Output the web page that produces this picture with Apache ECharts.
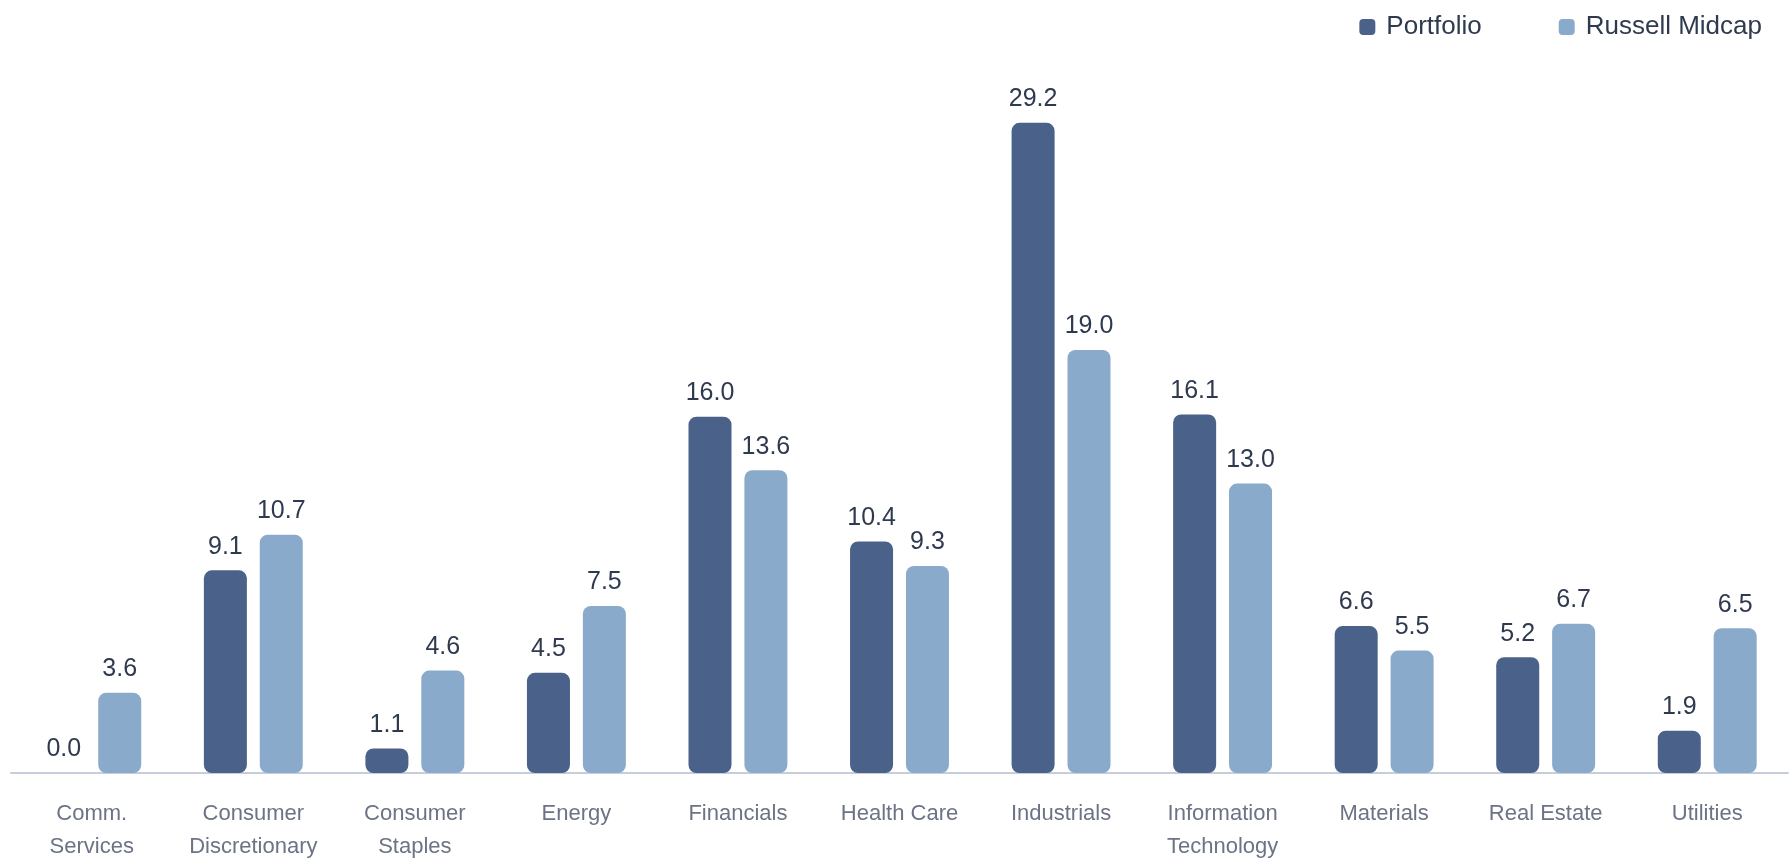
<!DOCTYPE html>
<html>
<head>
<meta charset="utf-8">
<script src="https://cdn.jsdelivr.net/npm/echarts@6/dist/echarts.min.js"></script>
<style>
  html, body { margin: 0; padding: 0; background: #ffffff; }
  #chart { width: 1791px; height: 860px; }
</style>
</head>
<body>
<div id="chart"></div>
<script>
// Sector weights (%)
const categories = [
  'Comm.\nServices', 'Consumer\nDiscretionary', 'Consumer\nStaples', 'Energy',
  'Financials', 'Health Care', 'Industrials', 'Information\nTechnology',
  'Materials', 'Real Estate', 'Utilities'
];
const portfolio = [0.0, 9.1, 1.1, 4.5, 16.0, 10.4, 29.2, 16.1, 6.6, 5.2, 1.9];
const russellMidcap = [3.6, 10.7, 4.6, 7.5, 13.6, 9.3, 19.0, 13.0, 5.5, 6.7, 6.5];
const seriesNames = ['Portfolio', 'Russell Midcap'];

const FONT = '"Liberation Sans", Arial, sans-serif';
const chart = echarts.init(document.getElementById('chart'));

const labelStyle = {
  show: true,
  position: 'top',
  distance: 11,
  color: '#2f3a4f',
  fontSize: 25,
  fontFamily: FONT,
  formatter: p => p.value.toFixed(1)
};

chart.setOption({
  animation: false,
  color: ['#4a6189', '#8aaacb'],
  legend: {
    top: 9,
    right: 24,
    itemWidth: 16,
    itemHeight: 16,
    itemGap: 77,
    icon: 'roundRect',
    textStyle: { color: '#2f3a4f', fontSize: 26, fontFamily: FONT, padding: [0, 0, 0, 6] },
    data: seriesNames
  },
  grid: {
    left: 11, right: 3, top: 105, bottom: 87,
    containLabel: false,
    outerBoundsMode: 'none'
  },
  xAxis: {
    type: 'category',
    data: categories,
    axisLine: { lineStyle: { color: '#c6cedc', width: 2 } },
    axisTick: { show: false },
    axisLabel: {
      color: '#6b7385',
      fontSize: 22,
      fontFamily: FONT,
      lineHeight: 33,
      margin: 24,
      interval: 0
    }
  },
  yAxis: {
    type: 'value',
    min: 0,
    max: 30,
    show: false,
    splitLine: { show: false }
  },
  series: [
    {
      name: seriesNames[0],
      type: 'bar',
      data: portfolio,
      barWidth: 43,
      barGap: '30%',
      itemStyle: { borderRadius: 8 },
      label: labelStyle
    },
    {
      name: seriesNames[1],
      type: 'bar',
      data: russellMidcap,
      barWidth: 43,
      barGap: '30%',
      itemStyle: { borderRadius: 8 },
      label: labelStyle
    }
  ]
});
</script>
</body>
</html>
